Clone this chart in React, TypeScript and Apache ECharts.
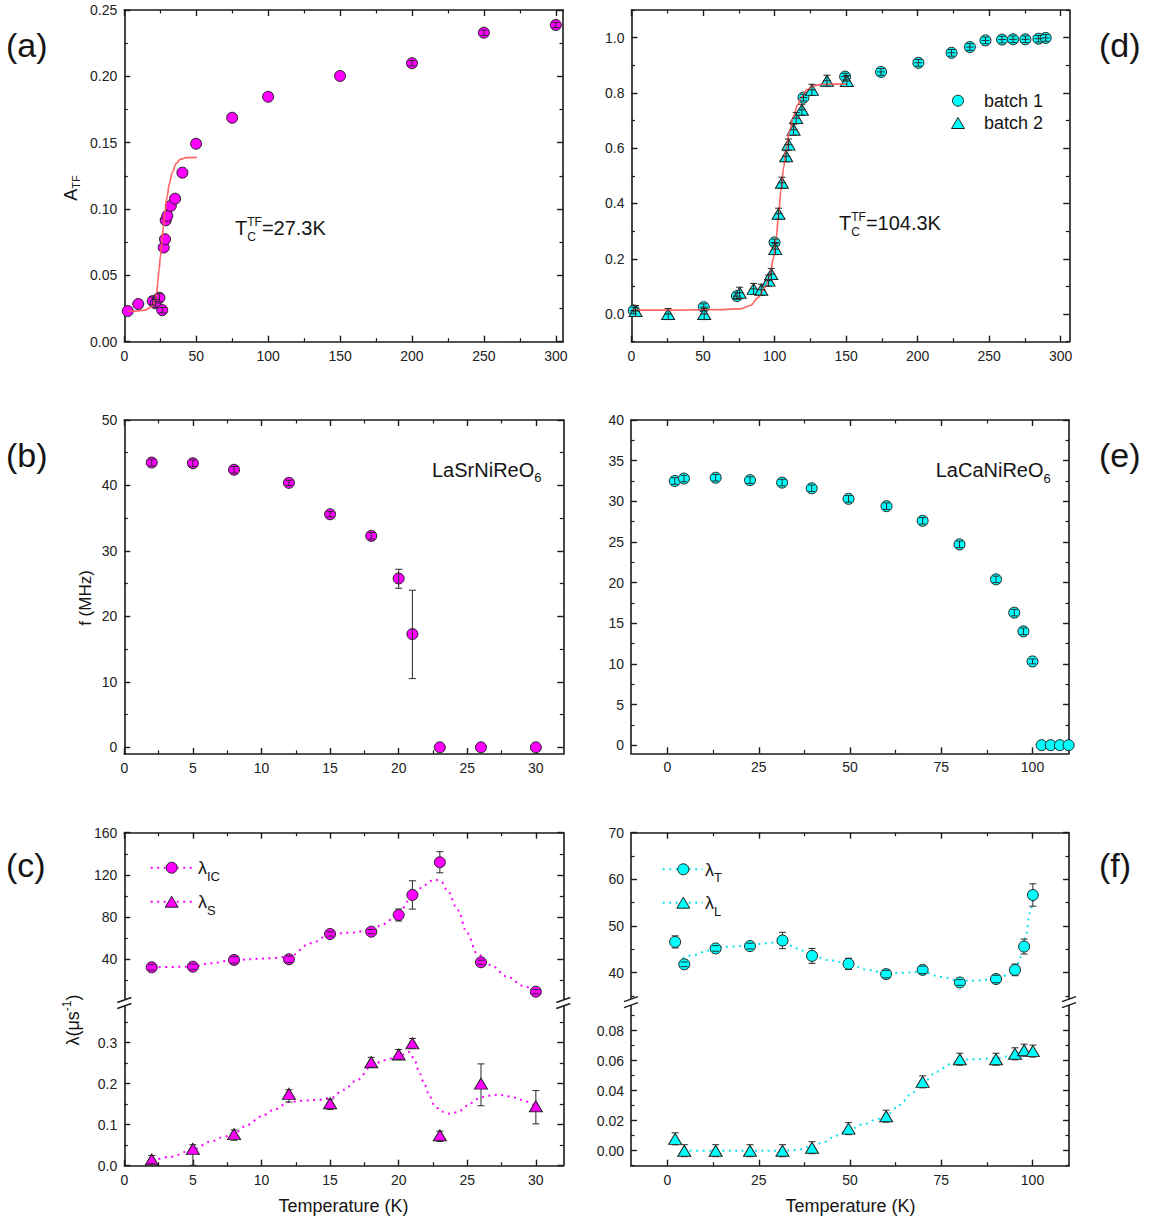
import React, { useEffect, useRef } from "react";
import * as echarts from "echarts";

const FONT = '"Liberation Sans", Arial, Helvetica, sans-serif';
const INK = "#1a1a1a";
const BAR = "#2a2a2a";
const MAGENTA = "#ff00ff";
const CYAN = "#00ffff";
const CYAN_DOT = "#10e0ee";
const FIT_RED = "#ff5555";

// ---------- (a) LaSrNiReO6: transverse-field asymmetry ----------
const aTemp = [2.4, 9.7, 19.8, 21.8, 24.4, 26.4, 27.4, 28.3, 28.8, 29.9, 32.3, 35.3, 40.4, 49.9, 75, 100, 150, 200, 250, 300];
const aAsym = [0.0231, 0.0284, 0.0306, 0.0289, 0.0331, 0.0238, 0.071, 0.0772, 0.0915, 0.0948, 0.1023, 0.1078, 0.1274, 0.1492, 0.1688, 0.1846, 0.2003, 0.2099, 0.2329, 0.2387];
const aErr = [0, 0, 0.003, 0.003, 0.003, 0.002, 0, 0, 0, 0, 0, 0, 0, 0, 0, 0, 0, 0.002, 0.002, 0.002];
const aFitTemp = [2.3, 7.4, 14.4, 19.0, 21.4, 22.5, 23.2, 24.1, 25.1, 26.0, 27.2, 28.3, 29.7, 31.3, 33.4, 36.0, 38.8, 43.4, 50.4];
const aFitAsym = [0.0231, 0.0231, 0.0238, 0.0263, 0.0301, 0.0364, 0.0439, 0.0539, 0.0639, 0.074, 0.0865, 0.0978, 0.1091, 0.1191, 0.1279, 0.1342, 0.1374, 0.1387, 0.1389];

// ---------- (d) LaCaNiReO6: normalized asymmetry, two batches ----------
const dTemp1 = [1.6, 50.5, 73.7, 100, 120.2, 149.3, 174.4, 200.5, 223.7, 236.5, 247.4, 259, 266.7, 275.3, 284.4, 289.5];
const dAsym1 = [0.013, 0.025, 0.065, 0.259, 0.783, 0.859, 0.876, 0.909, 0.945, 0.966, 0.99, 0.993, 0.994, 0.994, 0.996, 0.999];
const dErr1 = [0.012, 0.012, 0.012, 0.012, 0.012, 0.012, 0.012, 0.012, 0.012, 0.012, 0.012, 0.012, 0.012, 0.012, 0.012, 0.012];
const dTemp2 = [2.8, 25.6, 50.8, 75.6, 85.3, 90.7, 95.8, 97.7, 100.5, 102.8, 105.1, 108.1, 109.7, 113.3, 115.1, 119.1, 126.1, 136.6, 150.5];
const dAsym2 = [0.011, 0.0, 0.0, 0.077, 0.091, 0.088, 0.121, 0.145, 0.235, 0.363, 0.475, 0.571, 0.613, 0.667, 0.709, 0.739, 0.811, 0.844, 0.843];
const dErr2 = [0.02, 0.02, 0.02, 0.02, 0.02, 0.02, 0.02, 0.02, 0.02, 0.02, 0.02, 0.02, 0.02, 0.02, 0.02, 0.02, 0.02, 0.02, 0.02];
const dFitTemp = [0, 20, 41, 64, 76, 83, 88.8, 93.5, 97, 99.3, 101.2, 102.8, 104.4, 106.3, 108.1, 110.4, 113.3, 116, 119.1, 122.6, 127.2, 134.2, 150.5];
const dFitAsym = [0.014, 0.014, 0.015, 0.016, 0.019, 0.031, 0.061, 0.097, 0.145, 0.205, 0.277, 0.361, 0.445, 0.529, 0.601, 0.661, 0.715, 0.757, 0.787, 0.811, 0.826, 0.832, 0.832];

// ---------- (b) LaSrNiReO6: precession frequency ----------
const bTemp = [2, 5, 8, 12, 15, 18, 20, 21, 23, 26, 30];
const bFreq = [43.5, 43.4, 42.4, 40.4, 35.6, 32.3, 25.8, 17.3, 0, 0, 0];
const bErrLo = [0.5, 0.5, 0.5, 0.4, 0.4, 0.5, 1.5, 6.8, 0, 0, 0];
const bErrHi = [0.5, 0.5, 0.5, 0.4, 0.4, 0.5, 1.4, 6.7, 0, 0, 0];

// ---------- (e) LaCaNiReO6: precession frequency ----------
const eTemp = [2, 4.5, 13.2, 22.6, 31.4, 39.5, 49.6, 60, 69.9, 80, 90, 95, 97.5, 100, 102.5, 105, 107.5, 109.9];
const eFreq = [32.5, 32.8, 32.9, 32.6, 32.3, 31.6, 30.3, 29.4, 27.6, 24.7, 20.4, 16.3, 14.0, 10.3, 0, 0, 0, 0];
const eErr = [0.4, 0.4, 0.4, 0.4, 0.4, 0.4, 0.4, 0.4, 0.4, 0.4, 0.4, 0.4, 0.4, 0.3, 0, 0, 0, 0];

// ---------- (c) LaSrNiReO6: relaxation rates ----------
const cTemp = [2, 5, 8, 12, 15, 18, 20, 21, 23, 26, 30];
const cLamIC = [32.4, 33.0, 39.4, 40.0, 64.0, 66.2, 82.0, 101.0, 132.0, 37.2, 9.3];
const cErrIC = [2.5, 2.5, 3, 3, 2, 2, 5.7, 13.4, 10, 2, 2];
const cLamS = [0.015, 0.041, 0.077, 0.175, 0.152, 0.252, 0.271, 0.298, 0.074, 0.2, 0.145];
const cErrSLo = [0.01, 0.04, 0.015, 0.02, 0.015, 0.012, 0.012, 0.012, 0.015, 0.054, 0.043];
const cErrSHi = [0.01, 0.01, 0.01, 0.01, 0.01, 0.012, 0.012, 0.012, 0.01, 0.048, 0.038];
const cGuideICTemp = [2.04, 4.96, 6.3, 8.0, 10.7, 12.0, 13.6, 15.05, 16.5, 18.0, 18.9, 19.9, 20.9, 21.9, 22.6, 23.1, 23.6, 24.3, 25.0, 25.7, 26.7, 27.9, 29.2, 30.0];
const cGuideIC = [32.4, 33.0, 36.2, 39.4, 41.0, 42.5, 55.2, 64.0, 65.2, 67.8, 73.5, 82.0, 97.8, 110.4, 115.8, 113.6, 104.1, 86.7, 64.6, 45.7, 34.6, 23.5, 14.1, 9.3];
const cGuideSTemp = [2.04, 3.4, 4.96, 6.3, 7.3, 8.0, 9.0, 9.95, 10.9, 12.0, 12.9, 14.1, 15.05, 16.0, 17.0, 18.0, 18.9, 20.0, 20.8, 21.2, 21.5, 21.9, 22.2, 22.6, 23.1, 23.8, 24.3, 25.0, 25.7, 26.5, 27.2, 28.2, 28.9, 29.9];
const cGuideS = [0.0115, 0.022, 0.0384, 0.0587, 0.0709, 0.0792, 0.0995, 0.1198, 0.136, 0.155, 0.158, 0.1606, 0.1647, 0.185, 0.2095, 0.242, 0.2567, 0.2665, 0.277, 0.254, 0.226, 0.197, 0.173, 0.148, 0.132, 0.1264, 0.1305, 0.146, 0.1623, 0.1704, 0.1729, 0.1687, 0.1606, 0.1467];

// ---------- (f) LaCaNiReO6: relaxation rates ----------
const fTemp = [2.1, 4.6, 13.2, 22.6, 31.5, 39.6, 49.6, 59.9, 69.9, 80.1, 90, 95.2, 97.7, 100.1];
const fLamT = [46.6, 41.8, 45.2, 45.7, 46.9, 43.6, 41.9, 39.7, 40.6, 37.9, 38.65, 40.6, 45.6, 56.65];
const fErrT = [1.3, 0.5, 0.6, 0.6, 1.75, 1.6, 1.2, 0.8, 0.8, 0.6, 0.8, 1.25, 1.6, 2.4];
const fLamL = [0.0079, 0.0, 0.0, 0.0, 0.0, 0.002, 0.0147, 0.023, 0.0459, 0.061, 0.061, 0.0646, 0.067, 0.0664];
const fErrL = [0.004, 0.004, 0.004, 0.004, 0.004, 0.004, 0.004, 0.004, 0.004, 0.004, 0.004, 0.004, 0.004, 0.004];
const fGuideTTemp = [4.1, 7.3, 11.0, 13.2, 17.5, 22.6, 26.5, 31.5, 35.6, 39.6, 44.8, 49.6, 54.8, 59.9, 64.9, 69.9, 74.9, 80.1, 85.0, 90.0, 93.2, 95.2, 96.9, 98.3, 99.2, 100.1];
const fGuideT = [43.1, 43.8, 44.7, 45.4, 45.6, 45.9, 46.3, 46.6, 45.2, 43.6, 42.6, 41.9, 40.6, 39.9, 40.0, 40.2, 39.1, 38.3, 38.3, 38.65, 39.5, 40.6, 43.4, 48.4, 52.7, 55.6];
const fGuideLTemp = [4.3, 13.2, 22.6, 31.4, 35.4, 39.5, 42.7, 46.3, 49.6, 53.7, 57.3, 60.0, 63.7, 66.5, 69.9, 73.8, 77.4, 80.0, 84.7, 90.0, 92.9, 95.0, 97.5, 100.0];
const fGuideL = [0, 0, 0, 0, 0.0005, 0.0027, 0.0056, 0.0102, 0.014, 0.0176, 0.0208, 0.0237, 0.0305, 0.0373, 0.0452, 0.0527, 0.0576, 0.0606, 0.061, 0.0615, 0.0628, 0.0644, 0.066, 0.0667];

// ---------- tick values ----------
const tempWideMajor = [0, 50, 100, 150, 200, 250, 300];
const tempWideMinor = [25, 75, 125, 175, 225, 275];
const tempLowMajor = [0, 5, 10, 15, 20, 25, 30];
const tempLowMinor = [2.5, 7.5, 12.5, 17.5, 22.5, 27.5];
const tempMidMajor = [0, 25, 50, 75, 100];
const tempMidMinor = [12.5, 37.5, 62.5, 87.5];
const aYMajor = [0, 0.05, 0.1, 0.15, 0.2, 0.25];
const aYMinor = [0.025, 0.075, 0.125, 0.175, 0.225];
const dYMajor = [0, 0.2, 0.4, 0.6, 0.8, 1.0];
const dYMinor = [-0.1, 0.1, 0.3, 0.5, 0.7, 0.9, 1.1];
const bYMajor = [0, 10, 20, 30, 40, 50];
const bYMinor = [5, 15, 25, 35, 45];
const eYMajor = [0, 5, 10, 15, 20, 25, 30, 35, 40];
const eYMinor = [2.5, 7.5, 12.5, 17.5, 22.5, 27.5, 32.5, 37.5];
const cYUpMajor = [40, 80, 120, 160];
const cYUpMinor = [20, 60, 100, 140];
const cYLowMajor = [0, 0.1, 0.2, 0.3];
const cYLowMinor = [0.05, 0.15, 0.25, 0.35];
const fYUpMajor = [40, 50, 60, 70];
const fYUpMinor = [35, 45, 55, 65];
const fYLowMajor = [0, 0.02, 0.04, 0.06, 0.08];
const fYLowMinor = [-0.01, 0.01, 0.03, 0.05, 0.07, 0.09];

// plot rectangles (pixels)
const GRIDS = [
  { left: 124.3, top: 10, width: 438.7, height: 331.7 }, // a
  { left: 631.5, top: 10, width: 437.8, height: 331.7 }, // d
  { left: 124.3, top: 420, width: 439, height: 333.9 }, // b
  { left: 631, top: 420, width: 438, height: 333.3 }, // e
  { left: 124.3, top: 832.7, width: 439, height: 168.8 }, // c upper
  { left: 124.3, top: 1001.5, width: 439, height: 164.2 }, // c lower
  { left: 631, top: 832.7, width: 438, height: 168 }, // f upper
  { left: 631, top: 1000.7, width: 438, height: 165 }, // f lower
];

type Ticks = { min: number; max: number; major: number[]; minor: number[]; fmt: (v: number) => string };
const intFmt = (v: number) => String(Math.round(v));
const fix = (n: number) => (v: number) => v.toFixed(n);

function axisLayer(grid: number, t: Ticks, pos: string, labels: boolean) {
  const base = { type: "value", gridIndex: grid, position: pos, min: t.min, max: t.max, splitLine: { show: false }, silent: true };
  const major = {
    ...base,
    axisLine: { show: true, onZero: false, lineStyle: { color: INK, width: 1.6 } },
    axisTick: { show: true, inside: true, length: 6, customValues: t.major, lineStyle: { color: INK, width: 1.4 } },
    axisLabel: {
      show: labels,
      customValues: t.major,
      formatter: (v: number) => t.fmt(v),
      margin: 7,
      color: "#222",
      fontSize: 14,
      fontFamily: FONT,
    },
  };
  const minor = {
    ...base,
    axisLine: { show: false, onZero: false },
    axisTick: { show: true, inside: true, length: 3.5, customValues: t.minor, lineStyle: { color: INK, width: 1.2 } },
    axisLabel: { show: false },
  };
  return [major, minor];
}

let measureCtx: any = null;
function textWidth(t: string, fs: number) {
  if (!measureCtx) measureCtx = document.createElement("canvas").getContext("2d");
  measureCtx.font = `${fs}px ${FONT}`;
  return measureCtx.measureText(t).width;
}

type Seg = { t: string; fs: number; dy?: number; stack?: boolean };
function richLabel(x: number, y: number, segs: Seg[], anchor = "left", rotation = 0) {
  const kids: any[] = [];
  let cx = 0;
  let pending = 0;
  segs.forEach((s) => {
    kids.push({
      type: "text",
      x: cx,
      y: s.dy || 0,
      z: 100,
      style: { text: s.t, fontSize: s.fs, fontFamily: FONT, fill: "#151515", align: "left", verticalAlign: "middle" },
    });
    const w = textWidth(s.t, s.fs);
    if (s.stack) pending = Math.max(pending, w);
    else {
      cx += Math.max(pending, w);
      pending = 0;
    }
  });
  const shift = anchor === "center" ? -cx / 2 : anchor === "right" ? -cx : 0;
  kids.forEach((k) => (k.x += shift));
  return { type: "group", x, y, rotation, z: 100, children: kids };
}

function pairs(xs: number[], ys: number[]) {
  return xs.map((x, i) => [x, ys[i]]);
}

function scatter(xi: number, yi: number, xs: number[], ys: number[], symbol: string, color: string) {
  return {
    type: "scatter",
    xAxisIndex: xi,
    yAxisIndex: yi,
    symbol,
    symbolSize: symbol === "triangle" ? [13, 11] : 11,
    data: pairs(xs, ys),
    itemStyle: { color, borderColor: "#202020", borderWidth: 1, opacity: 1 },
    z: 3,
    silent: true,
  };
}

function curve(xi: number, yi: number, xs: number[], ys: number[], color: string, dotted: boolean) {
  return {
    type: "line",
    xAxisIndex: xi,
    yAxisIndex: yi,
    data: pairs(xs, ys),
    showSymbol: false,
    symbol: "none",
    smooth: 0.35,
    smoothMonotone: "x",
    lineStyle: dotted ? { color, width: 2, type: [2, 4.5] } : { color, width: 1.7, opacity: 0.9 },
    z: dotted ? 1 : 4,
    silent: true,
  };
}

function errorBars(
  xi: number,
  yi: number,
  xs: number[],
  ys: number[],
  lo: number[],
  hi: number[],
  mode: string,
  radius = 5.5,
  cross = 0
) {
  const cap = 3.5;
  return {
    type: "custom",
    xAxisIndex: xi,
    yAxisIndex: yi,
    z: 5,
    silent: true,
    data: xs.map((x, i) => [x, ys[i], lo[i], hi[i]]),
    renderItem: (_p: any, api: any) => {
      const x = api.value(0);
      const y = api.value(1);
      const l = api.value(2);
      const h = api.value(3);
      const kids: any[] = [];
      if (!(l > 0 || h > 0)) return { type: "group", children: kids };
      const c = api.coord([x, y]);
      const t = api.coord([x, y + h]);
      const b = api.coord([x, y - l]);
      const seg = (x1: number, y1: number, x2: number, y2: number) =>
        kids.push({ type: "line", shape: { x1, y1, x2, y2 }, style: { stroke: BAR, lineWidth: 1 } });
      if (mode === "through") seg(c[0], t[1], c[0], b[1]);
      else {
        if (c[1] - t[1] > radius) seg(c[0], c[1] - radius, c[0], t[1]);
        if (b[1] - c[1] > radius) seg(c[0], c[1] + radius, c[0], b[1]);
      }
      seg(c[0] - cap, t[1], c[0] + cap, t[1]);
      seg(c[0] - cap, b[1], c[0] + cap, b[1]);
      if (cross) seg(c[0] - cross, c[1], c[0] + cross, c[1]);
      return { type: "group", children: kids };
    },
  };
}

function breakMark(x: number, y: number) {
  return [
    { type: "polygon", z: 100, shape: { points: [[x - 7, y + 1], [x + 7, y - 4], [x + 7, y + 2], [x - 7, y + 7]] }, style: { fill: "#fff" } },
    { type: "line", z: 101, shape: { x1: x - 7, y1: y + 1, x2: x + 7, y2: y - 4 }, style: { stroke: INK, lineWidth: 1.4 } },
    { type: "line", z: 101, shape: { x1: x - 7, y1: y + 7, x2: x + 7, y2: y + 2 }, style: { stroke: INK, lineWidth: 1.4 } },
  ];
}

function legendCircle(x: number, y: number, color: string) {
  return { type: "circle", z: 100, shape: { cx: x, cy: y, r: 5.5 }, style: { fill: color, stroke: "#202020", lineWidth: 1 } };
}
function legendTriangle(x: number, y: number, color: string) {
  return {
    type: "polygon",
    z: 100,
    shape: { points: [[x, y - 5.5], [x + 6.5, y + 5.5], [x - 6.5, y + 5.5]] },
    style: { fill: color, stroke: "#202020", lineWidth: 1 },
  };
}
function legendDots(x1: number, x2: number, y: number, color: string) {
  return { type: "line", z: 99, shape: { x1, y1: y, x2, y2: y }, style: { stroke: color, lineWidth: 2, lineDash: [2, 4.5] } };
}

function buildOption() {
  const xAxes: any[] = [];
  const yAxes: any[] = [];
  const addX = (g: number, t: Ticks, pos: string, labels: boolean) => {
    const i = xAxes.length;
    xAxes.push(...axisLayer(g, t, pos, labels));
    return i;
  };
  const addY = (g: number, t: Ticks, pos: string, labels: boolean) => {
    const i = yAxes.length;
    yAxes.push(...axisLayer(g, t, pos, labels));
    return i;
  };

  const xWideA: Ticks = { min: 0, max: 305, major: tempWideMajor, minor: tempWideMinor, fmt: intFmt };
  const xWideD: Ticks = { min: 0, max: 306, major: tempWideMajor, minor: tempWideMinor, fmt: intFmt };
  const xLow: Ticks = { min: 0, max: 32, major: tempLowMajor, minor: tempLowMinor, fmt: intFmt };
  const xMid: Ticks = { min: -10, max: 110, major: tempMidMajor, minor: tempMidMinor, fmt: intFmt };

  // (a)
  const axA = addX(0, xWideA, "bottom", true);
  addX(0, xWideA, "top", false);
  const ayA = addY(0, { min: 0, max: 0.25, major: aYMajor, minor: aYMinor, fmt: fix(2) }, "left", true);
  addY(0, { min: 0, max: 0.25, major: aYMajor, minor: aYMinor, fmt: fix(2) }, "right", false);
  // (d)
  const axD = addX(1, xWideD, "bottom", true);
  addX(1, xWideD, "top", false);
  const dY: Ticks = { min: -0.1, max: 1.1, major: dYMajor, minor: dYMinor, fmt: fix(1) };
  const ayD = addY(1, dY, "left", true);
  addY(1, dY, "right", false);
  // (b)
  const axB = addX(2, xLow, "bottom", true);
  addX(2, xLow, "top", false);
  const bY: Ticks = { min: -1, max: 50, major: bYMajor, minor: bYMinor, fmt: intFmt };
  const ayB = addY(2, bY, "left", true);
  addY(2, bY, "right", false);
  // (e)
  const axE = addX(3, xMid, "bottom", true);
  addX(3, xMid, "top", false);
  const eY: Ticks = { min: -1, max: 40, major: eYMajor, minor: eYMinor, fmt: intFmt };
  const ayE = addY(3, eY, "left", true);
  addY(3, eY, "right", false);
  // (c) upper + lower
  const axCU = addX(4, xLow, "top", false);
  const cYU: Ticks = { min: 0, max: 160, major: cYUpMajor, minor: cYUpMinor, fmt: intFmt };
  const ayCU = addY(4, cYU, "left", true);
  addY(4, cYU, "right", false);
  const axCL = addX(5, xLow, "bottom", true);
  const cYL: Ticks = { min: 0, max: 0.4, major: cYLowMajor, minor: cYLowMinor, fmt: fix(1) };
  const ayCL = addY(5, cYL, "left", true);
  addY(5, cYL, "right", false);
  // (f) upper + lower
  const axFU = addX(6, xMid, "top", false);
  const fYU: Ticks = { min: 34, max: 70, major: fYUpMajor, minor: fYUpMinor, fmt: intFmt };
  const ayFU = addY(6, fYU, "left", true);
  addY(6, fYU, "right", false);
  const axFL = addX(7, xMid, "bottom", true);
  const fYL: Ticks = { min: -0.01, max: 0.1, major: fYLowMajor, minor: fYLowMinor, fmt: fix(2) };
  const ayFL = addY(7, fYL, "left", true);
  addY(7, fYL, "right", false);

  const series: any[] = [
    // (a)
    scatter(axA, ayA, aTemp, aAsym, "circle", MAGENTA),
    curve(axA, ayA, aFitTemp, aFitAsym, FIT_RED, false),
    errorBars(axA, ayA, aTemp, aAsym, aErr, aErr, "through"),
    // (d)
    scatter(axD, ayD, dTemp1, dAsym1, "circle", CYAN),
    scatter(axD, ayD, dTemp2, dAsym2, "triangle", CYAN),
    curve(axD, ayD, dFitTemp, dFitAsym, FIT_RED, false),
    errorBars(axD, ayD, dTemp1, dAsym1, dErr1, dErr1, "through", 5.5, 4),
    errorBars(axD, ayD, dTemp2, dAsym2, dErr2, dErr2, "through", 5.5, 4),
    // (b)
    scatter(axB, ayB, bTemp, bFreq, "circle", MAGENTA),
    errorBars(axB, ayB, bTemp, bFreq, bErrLo, bErrHi, "through"),
    // (e)
    scatter(axE, ayE, eTemp, eFreq, "circle", CYAN),
    errorBars(axE, ayE, eTemp, eFreq, eErr, eErr, "through"),
    // (c)
    curve(axCU, ayCU, cGuideICTemp, cGuideIC, MAGENTA, true),
    scatter(axCU, ayCU, cTemp, cLamIC, "circle", MAGENTA),
    errorBars(axCU, ayCU, cTemp, cLamIC, cErrIC, cErrIC, "outside"),
    curve(axCL, ayCL, cGuideSTemp, cGuideS, MAGENTA, true),
    scatter(axCL, ayCL, cTemp, cLamS, "triangle", MAGENTA),
    errorBars(axCL, ayCL, cTemp, cLamS, cErrSLo, cErrSHi, "outside"),
    // (f)
    curve(axFU, ayFU, fGuideTTemp, fGuideT, CYAN_DOT, true),
    scatter(axFU, ayFU, fTemp, fLamT, "circle", CYAN),
    errorBars(axFU, ayFU, fTemp, fLamT, fErrT, fErrT, "outside"),
    curve(axFL, ayFL, fGuideLTemp, fGuideL, CYAN_DOT, true),
    scatter(axFL, ayFL, fTemp, fLamL, "triangle", CYAN),
    errorBars(axFL, ayFL, fTemp, fLamL, fErrL, fErrL, "outside"),
  ];

  const graphics: any[] = [
    // panel letters
    richLabel(6, 45, [{ t: "(a)", fs: 34 }]),
    richLabel(6, 455, [{ t: "(b)", fs: 34 }]),
    richLabel(6, 865, [{ t: "(c)", fs: 34 }]),
    richLabel(1099, 45, [{ t: "(d)", fs: 34 }]),
    richLabel(1099, 455, [{ t: "(e)", fs: 34 }]),
    richLabel(1099, 865, [{ t: "(f)", fs: 34 }]),
    // axis titles
    richLabel(71, 188, [{ t: "A", fs: 18 }, { t: "TF", fs: 11, dy: 5 }], "center", Math.PI / 2),
    richLabel(85, 598, [{ t: "f (MHz)", fs: 17 }], "center", Math.PI / 2),
    richLabel(73, 1020, [{ t: "λ(μs", fs: 18 }, { t: "-1", fs: 12, dy: -6 }, { t: ")", fs: 18 }], "center", Math.PI / 2),
    richLabel(343.5, 1206, [{ t: "Temperature (K)", fs: 18 }], "center"),
    richLabel(850.5, 1206, [{ t: "Temperature (K)", fs: 18 }], "center"),
    // annotations
    richLabel(235, 227.5, [{ t: "T", fs: 20 }, { t: "TF", fs: 12, dy: -6, stack: true }, { t: "C", fs: 12, dy: 9.5 }, { t: "=27.3K", fs: 20 }]),
    richLabel(839, 222.5, [{ t: "T", fs: 20 }, { t: "TF", fs: 12, dy: -6, stack: true }, { t: "C", fs: 12, dy: 9.5 }, { t: "=104.3K", fs: 20 }]),
    richLabel(432, 469.5, [{ t: "LaSrNiReO", fs: 20 }, { t: "6", fs: 13, dy: 8 }]),
    richLabel(935.7, 470, [{ t: "LaCaNiReO", fs: 20 }, { t: "6", fs: 13, dy: 8 }]),
    // (d) legend
    legendCircle(958, 100.7, CYAN),
    richLabel(984, 100.7, [{ t: "batch 1", fs: 18 }]),
    legendTriangle(958, 123, CYAN),
    richLabel(984, 123.3, [{ t: "batch 2", fs: 18 }]),
    // (c) legend
    legendDots(150.7, 195.7, 867.7, MAGENTA),
    legendCircle(171.7, 867.7, MAGENTA),
    richLabel(198, 868.3, [{ t: "λ", fs: 18 }, { t: "IC", fs: 13, dy: 8 }]),
    legendDots(150.7, 195.7, 901.7, MAGENTA),
    legendTriangle(171.7, 901.7, MAGENTA),
    richLabel(198, 902.3, [{ t: "λ", fs: 18 }, { t: "S", fs: 13, dy: 8 }]),
    // (f) legend
    legendDots(662.7, 702.7, 869.3, CYAN_DOT),
    legendCircle(683.3, 869.3, CYAN),
    richLabel(705, 869.8, [{ t: "λ", fs: 18 }, { t: "T", fs: 13, dy: 8 }]),
    legendDots(662.7, 702.7, 902.7, CYAN_DOT),
    legendTriangle(683.3, 902.7, CYAN),
    richLabel(705, 903.2, [{ t: "λ", fs: 18 }, { t: "L", fs: 13, dy: 8 }]),
    // axis breaks
    ...breakMark(124.3, 1001.5),
    ...breakMark(563.3, 1001.5),
    ...breakMark(631, 1000.7),
    ...breakMark(1069, 1000.7),
  ];

  return {
    animation: false,
    backgroundColor: "#ffffff",
    grid: GRIDS.map((g) => ({ ...g, containLabel: false, show: false })),
    xAxis: xAxes,
    yAxis: yAxes,
    series,
    graphic: graphics,
  };
}

export default function App() {
  const ref = useRef<HTMLDivElement>(null);
  useEffect(() => {
    if (!ref.current) return;
    const chart = echarts.init(ref.current, undefined, { renderer: "svg" });
    chart.setOption(buildOption() as any);
    return () => chart.dispose();
  }, []);
  return (
    <div
      ref={ref}
      style={{ position: "absolute", left: 0, top: 0, width: 1153, height: 1220, background: "#fff" }}
    />
  );
}
